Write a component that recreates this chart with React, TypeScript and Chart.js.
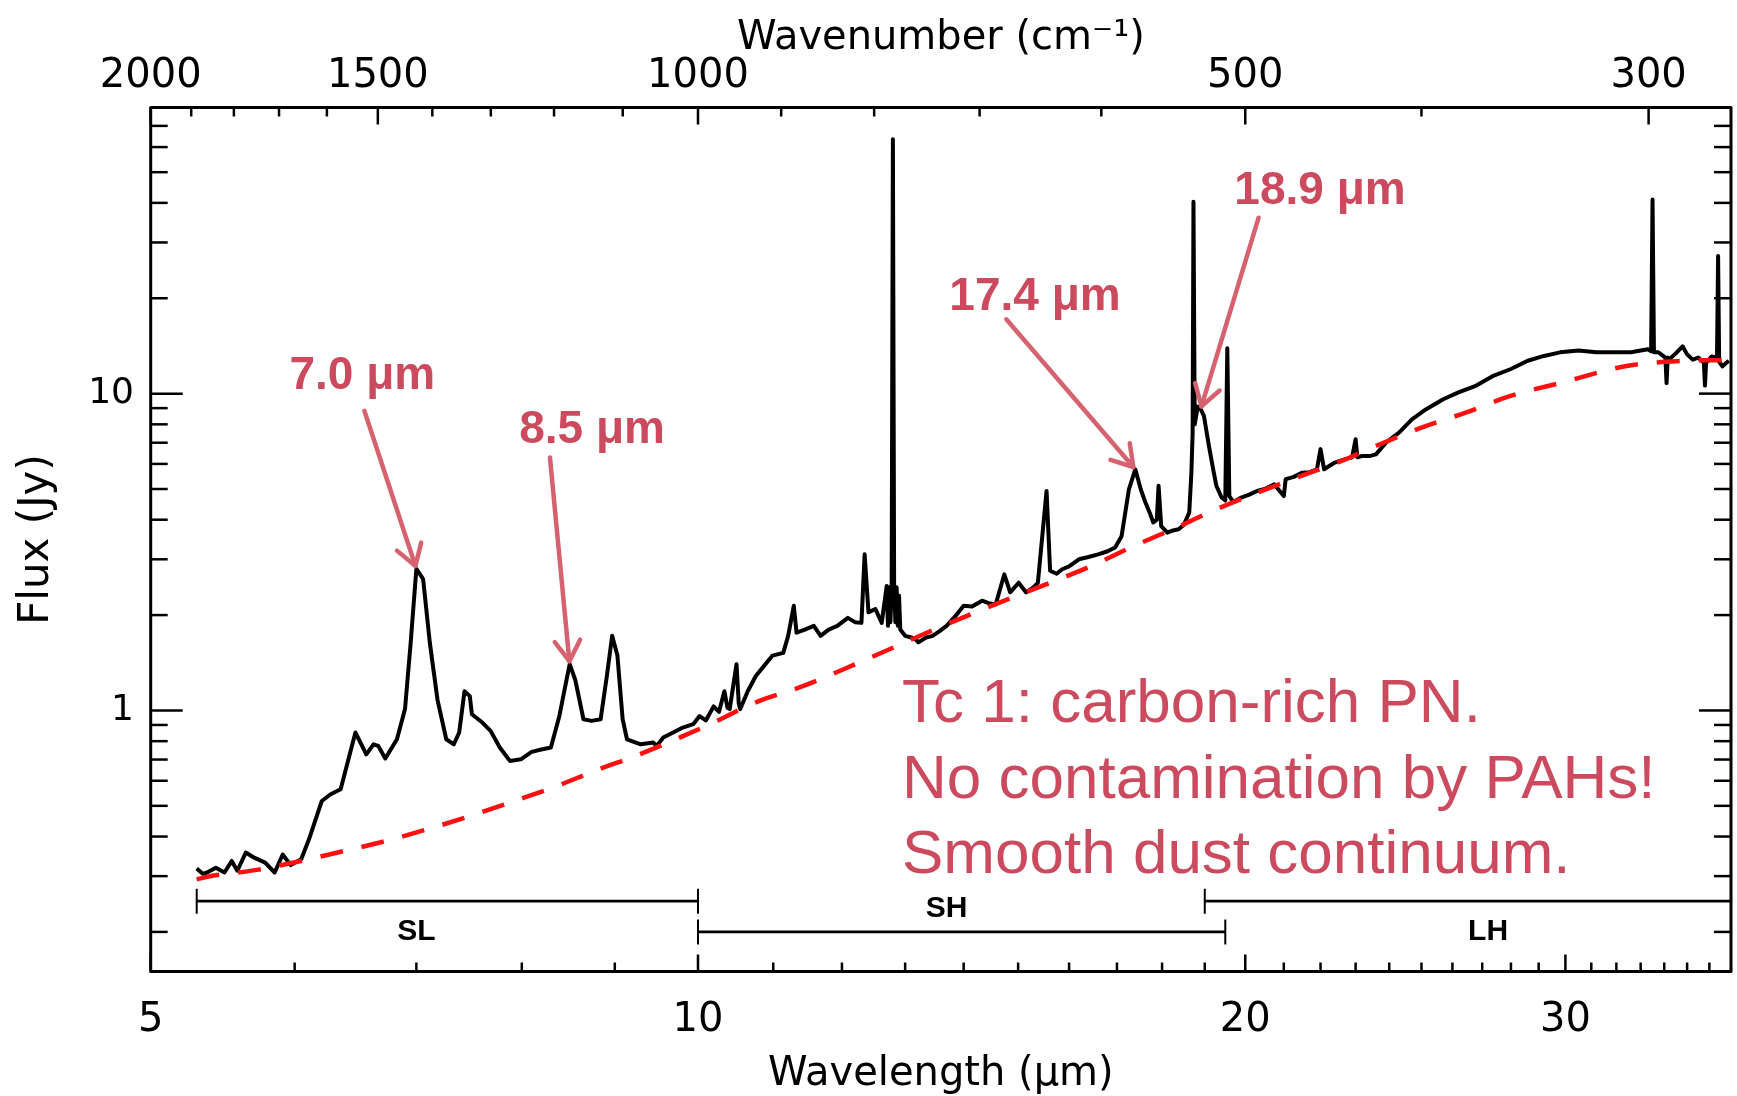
import React, { useEffect, useRef } from "react";
import { Chart, registerables } from "chart.js";

Chart.register(...registerables);

// Tc 1 — Spitzer IRS spectrum. Wavelength in μm, flux density in Jy.
const specWavelength = [
  5.3, 5.34, 5.37, 5.43, 5.49, 5.54, 5.58, 5.64, 5.7, 5.78, 5.85, 5.91, 5.97, 6.05, 6.11,
  6.21, 6.28, 6.36, 6.43, 6.48, 6.57, 6.63, 6.67, 6.73, 6.83, 6.9, 6.95, 7.0, 7.06, 7.12,
  7.19, 7.27, 7.34, 7.39, 7.44, 7.49, 7.51, 7.61, 7.69, 7.78, 7.88, 7.99, 8.1, 8.21, 8.3,
  8.39, 8.5, 8.56, 8.65, 8.74, 8.84, 8.91, 8.97, 9.03, 9.09, 9.14, 9.3, 9.45, 9.49, 9.57,
  9.69, 9.81, 9.94, 10.02, 10.1, 10.2, 10.27, 10.34, 10.38, 10.41, 10.5, 10.53, 10.55, 10.65,
  10.76, 10.87, 10.99, 11.14, 11.21, 11.29, 11.33, 11.45, 11.58, 11.68, 11.8, 11.93, 12.09,
  12.2, 12.3, 12.35, 12.41, 12.52, 12.62, 12.7, 12.72, 12.74, 12.76, 12.78, 12.8, 12.82,
  12.84, 12.86, 12.88, 12.9, 12.92, 13.0, 13.1, 13.17, 13.22, 13.35, 13.46, 13.58, 13.7,
  13.85, 14.0, 14.15, 14.33, 14.45, 14.58, 14.74, 14.85, 15.01, 15.15, 15.3, 15.38, 15.55,
  15.62, 15.75, 15.86, 16.0, 16.2, 16.4, 16.6, 16.8, 16.96, 17.1, 17.26, 17.4, 17.52, 17.62,
  17.72, 17.8, 17.88, 17.92, 17.98, 18.12, 18.25, 18.38, 18.5, 18.63, 18.68, 18.71, 18.73,
  18.76, 18.83, 18.9, 18.98, 19.1, 19.2, 19.28, 19.41, 19.5, 19.55, 19.6, 19.7, 19.9, 20.1,
  20.3, 20.5, 20.75, 21.0, 21.05, 21.25, 21.5, 21.7, 21.9, 22.0, 22.1, 22.4, 22.7, 22.9, 23.0,
  23.05, 23.2, 23.4, 23.6, 23.9, 24.3, 24.7, 25.15, 25.7, 26.2, 26.8, 27.4, 28.0, 28.6, 29.2,
  29.8, 30.5, 31.2, 31.9, 32.6, 33.3, 33.44, 33.5, 33.56, 33.75, 34.05, 34.1, 34.15, 34.2,
  34.5, 34.8, 35.0, 35.25, 35.5, 35.75, 35.8, 35.85, 36.1, 36.35, 36.4, 36.45, 36.6, 36.9,
];
const specFlux = [
  0.317, 0.305, 0.308, 0.319, 0.308, 0.335, 0.312, 0.356, 0.343, 0.331, 0.308, 0.351, 0.325, 0.339, 0.392,
  0.518, 0.544, 0.564, 0.718, 0.852, 0.727, 0.782, 0.773, 0.705, 0.811, 1.01, 1.64, 2.8, 2.6, 1.64,
  1.08, 0.811, 0.782, 0.852, 1.15, 1.11, 0.973, 0.916, 0.862, 0.764, 0.693, 0.701, 0.74, 0.754, 0.764,
  0.961, 1.4, 1.25, 0.938, 0.927, 0.938, 1.285, 1.72, 1.49, 0.938, 0.811, 0.782, 0.792, 0.773, 0.821,
  0.852, 0.883, 0.905, 0.96, 0.93, 1.03, 0.99, 1.15, 1.02, 1.01, 1.4, 1.05, 1.01, 1.15,
  1.285, 1.38, 1.49, 1.52, 1.72, 2.14, 1.76, 1.8, 1.85, 1.72, 1.8, 1.85, 1.96,
  1.9, 1.89, 3.11, 2.04, 2.09, 1.89, 2.47, 1.85, 2.45, 1.9, 2.5, 63.5, 2.5,
  1.9, 2.45, 1.85, 2.3, 1.8, 1.72, 1.7, 1.68, 1.64, 1.7, 1.72, 1.78, 1.85,
  1.98, 2.14, 2.13, 2.22, 2.18, 2.16, 2.69, 2.36, 2.53, 2.36, 2.45, 2.53, 4.93,
  2.76, 2.7, 2.79, 2.85, 3.0, 3.05, 3.11, 3.18, 3.27, 3.55, 4.99, 5.77, 4.99, 4.55,
  4.21, 3.92, 4.0, 5.12, 3.82, 3.64, 3.7, 3.73, 3.85, 4.21, 5.6, 7.5, 40.3,
  8.0, 9.1, 8.93, 8.5, 6.84, 5.8, 5.12, 4.7, 4.6, 13.9, 4.75, 4.55, 4.7, 4.8,
  4.93, 5.0, 5.17, 4.75, 5.37, 5.45, 5.63, 5.65, 5.77, 6.68, 5.77, 6.06, 6.21, 6.3, 7.18,
  6.3, 6.36, 6.35, 6.43, 7.0, 7.53, 8.3, 8.93, 9.6, 10.09, 10.6, 11.4, 11.96, 12.7, 13.15,
  13.5, 13.68, 13.5, 13.5, 13.5, 13.8, 13.6, 41.0, 13.5, 13.5, 13.0, 10.8, 13.0, 12.8,
  13.4, 14.1, 13.3, 12.8, 13.0, 12.5, 10.6, 12.5, 13.1, 13.0, 27.2, 12.6, 12.2, 12.7,
];

// Smooth dust continuum model
const contWavelength = [
  5.3, 5.38, 5.72, 6.02, 6.36, 6.72, 7.1, 7.5, 7.91, 8.35, 8.8, 9.27, 9.77, 10.2, 10.73,
  11.43, 12.06, 12.7, 13.37, 14.1, 14.85, 15.63, 16.46, 17.37, 18.3, 19.29, 21.4, 22.56,
  23.79, 25.09, 26.46, 27.93, 29.98, 32.35, 34.0, 36.0, 36.7,
];
const contFlux = [
  0.293, 0.299, 0.314, 0.333, 0.358, 0.386, 0.422, 0.465, 0.516, 0.575, 0.649, 0.724, 0.821, 0.916, 1.054,
  1.195, 1.359, 1.546, 1.762, 2.002, 2.26, 2.533, 2.858, 3.306, 3.76, 4.32, 5.46, 6.11,
  6.97, 7.87, 8.72, 9.8, 10.9, 12.2, 12.6, 12.75, 12.75,
];

// Axis ticks
const wavelengthTicks = [
  5, 6, 7, 8, 9, 10, 11, 12, 13, 14, 15, 16, 17, 18, 19, 20, 21, 22, 23, 24, 25, 26, 27, 28, 29,
  30, 31, 32, 33, 34, 35, 36,
];
const wavelengthLabels = [5, 10, 20, 30];
const wavenumberTicks = [2000, 1900, 1800, 1700, 1600, 1500, 1400, 1300, 1200, 1100, 1000, 900, 800, 700, 600, 500, 400, 300];
const wavenumberLabels = [2000, 1500, 1000, 500, 300];
const fluxTicks = [
  0.2, 0.3, 0.4, 0.5, 0.6, 0.7, 0.8, 0.9, 1, 2, 3, 4, 5, 6, 7, 8, 9, 10, 20, 30, 40, 50, 60, 70,
];
const fluxLabels = [1, 10];

// IRS modules and their wavelength coverage
const moduleNames = ["SL", "SH", "LH"];
const moduleStart = [5.3, 10, 19.0];
const moduleEnd = [10, 19.5, 37];
const moduleLevel = [0.25, 0.2, 0.25];
const moduleLabelWavelength = [7.0, 13.7, 27.2];
const moduleLabelFlux = [0.2, 0.236, 0.2];

// Fullerene bands marked on the spectrum
const featureLabels = ["7.0 μm", "8.5 μm", "17.4 μm", "18.9 μm"];
const featureWavelength = [7.0, 8.5, 17.4, 18.9];

const noteLines = ["Tc 1: carbon-rich PN.", "No contamination by PAHs!", "Smooth dust continuum."];

// ---- layout & styling ----
const W = 1737;
const H = 1096;
const AREA = { left: 150.7, right: 1731, top: 107.5, bottom: 971.5 };
const ACCENT = "#cc4a5e";
const ARROW = "#d6626f";
const AXIS_FONT = "DejaVu Sans";

// callout geometry relative to the marked peak (pixels): arrow tail, label anchor
const callouts = [
  { tail: [-52, -158], label: [-54, -179.5] },
  { tail: [-19.7, -206.6], label: [22.4, -221.6] },
  { tail: [-129, -150], label: [-100.3, -159.6] },
  { tail: [58, -191.5], label: [119.4, -205] },
];

const majorX = new Set(wavelengthLabels);
const majorNu = new Set(wavenumberLabels);
const majorY = new Set(fluxLabels);

function peakFlux(w: number): number {
  const i = specWavelength.indexOf(w);
  return specFlux[i];
}

// keep every axis box at its fixed size, without label overhang padding
function pinBox(size: { width?: number; height?: number }) {
  return (s: any) => {
    if (size.width !== undefined) s.width = size.width;
    if (size.height !== undefined) s.height = size.height;
    s.paddingLeft = 0;
    s.paddingRight = 0;
    s.paddingTop = 0;
    s.paddingBottom = 0;
  };
}

const decorations = {
  id: "decorations",
  afterDatasetsDraw(chart: any) {
    const { ctx, chartArea: a, scales } = chart;
    const x = scales.x;
    const x2 = scales.x2;
    const y = scales.y;
    const y2 = scales.y2;
    ctx.save();

    // module labels
    ctx.fillStyle = "#000";
    ctx.font = 'bold 30px "Liberation Sans"';
    ctx.textAlign = "center";
    ctx.textBaseline = "middle";
    moduleNames.forEach((name, i) => {
      ctx.fillText(name, x.getPixelForValue(moduleLabelWavelength[i]), y.getPixelForValue(moduleLabelFlux[i]));
    });

    // feature callouts
    featureLabels.forEach((text, i) => {
      const w = featureWavelength[i];
      const px = x.getPixelForValue(w);
      const py = y.getPixelForValue(peakFlux(w));
      const c = callouts[i];
      const tx = px + c.tail[0];
      const ty = py + c.tail[1];
      const dx = px - tx;
      const dy = py - ty;
      const len = Math.hypot(dx, dy);
      const ux = dx / len;
      const uy = dy / len;
      const hx = px - ux * 3;
      const hy = py - uy * 3;
      ctx.strokeStyle = ARROW;
      ctx.lineWidth = 4.5;
      ctx.lineCap = "round";
      ctx.lineJoin = "round";
      ctx.beginPath();
      ctx.moveTo(tx, ty);
      ctx.lineTo(hx, hy);
      ctx.stroke();
      const ang = Math.atan2(uy, ux);
      const head = 24;
      const spread = 0.56;
      ctx.beginPath();
      ctx.moveTo(hx - head * Math.cos(ang - spread), hy - head * Math.sin(ang - spread));
      ctx.lineTo(hx, hy);
      ctx.lineTo(hx - head * Math.cos(ang + spread), hy - head * Math.sin(ang + spread));
      ctx.stroke();

      ctx.fillStyle = ACCENT;
      ctx.font = 'bold 46px "Liberation Sans"';
      ctx.textAlign = "center";
      ctx.textBaseline = "alphabetic";
      ctx.fillText(text, px + c.label[0], py + c.label[1]);
    });

    // note
    ctx.fillStyle = ACCENT;
    ctx.font = '62px "Liberation Sans"';
    ctx.textAlign = "left";
    ctx.textBaseline = "alphabetic";
    noteLines.forEach((line, i) => {
      ctx.fillText(line, a.left + 751.3, a.top + 614.2 + i * 75.8);
    });

    // frame
    ctx.strokeStyle = "#000";
    ctx.lineCap = "butt";
    ctx.lineWidth = 3;
    ctx.strokeRect(a.left, a.top, a.right - a.left, a.bottom - a.top);

    // inward tick marks
    ctx.lineWidth = 2.5;
    const seg = (x0: number, y0: number, x1: number, y1: number) => {
      ctx.beginPath();
      ctx.moveTo(x0, y0);
      ctx.lineTo(x1, y1);
      ctx.stroke();
    };
    wavelengthTicks.forEach((v) => {
      const px = x.getPixelForValue(v);
      seg(px, a.bottom, px, a.bottom - (majorX.has(v) ? 17 : 9));
    });
    wavenumberTicks.forEach((n) => {
      const px = x2.getPixelForValue(10000 / n);
      seg(px, a.top, px, a.top + (majorNu.has(n) ? 17 : 9));
    });
    fluxTicks.forEach((v) => {
      const len = majorY.has(v) ? 32 : 17;
      const pl = y.getPixelForValue(v);
      seg(a.left, pl, a.left + len, pl);
      const pr = y2.getPixelForValue(v);
      seg(a.right, pr, a.right - len, pr);
    });

    ctx.restore();
  },
};

const tickFont = { family: AXIS_FONT, size: 40 };

export default function App() {
  const canvasRef = useRef<HTMLCanvasElement | null>(null);

  useEffect(() => {
    const canvas = canvasRef.current;
    if (!canvas) return;

    const spectrum = specWavelength.map((w, i) => ({ x: w, y: specFlux[i] }));
    const continuum = contWavelength.map((w, i) => ({ x: w, y: contFlux[i] }));
    const moduleSets = moduleNames.map((name, i) => ({
      label: name,
      data: [
        { x: moduleStart[i], y: moduleLevel[i] },
        { x: moduleEnd[i], y: moduleLevel[i] },
      ],
      borderColor: "#000",
      borderWidth: 2.8,
      pointStyle: "line" as const,
      rotation: 90,
      pointRadius: 12.5,
      pointBorderWidth: 2,
      pointBorderColor: "#000",
      showLine: true,
      tension: 0,
    }));

    const chart = new Chart(canvas, {
      type: "line",
      data: {
        datasets: [
          {
            label: "continuum",
            data: continuum,
            borderColor: "#ff1010",
            borderWidth: 4.5,
            borderDash: [23, 19],
            pointRadius: 0,
            cubicInterpolationMode: "monotone",
            fill: false,
          },
          {
            label: "Tc 1",
            data: spectrum,
            borderColor: "#000",
            borderWidth: 4,
            pointRadius: 0,
            tension: 0,
            borderJoinStyle: "round",
            fill: false,
          },
          ...moduleSets,
        ],
      },
      options: {
        animation: false,
        responsive: false,
        devicePixelRatio: 1,
        events: [],
        layout: { padding: 0, autoPadding: false },
        plugins: { legend: { display: false }, tooltip: { enabled: false } },
        scales: {
          x: {
            type: "logarithmic",
            axis: "x",
            position: "bottom",
            min: 5,
            max: 37,
            afterBuildTicks: (s: any) => {
              s.ticks = wavelengthTicks.map((v) => ({ value: v }));
            },
            afterFit: pinBox({ height: H - AREA.bottom }),
            grid: { display: false, drawTicks: false },
            border: { display: false },
            ticks: {
              autoSkip: false,
              maxRotation: 0,
              minRotation: 0,
              padding: 25,
              color: "#000",
              font: tickFont,
              callback: (v: any) => (majorX.has(Number(v)) ? String(v) : ""),
            },
            title: {
              display: true,
              text: "Wavelength (μm)",
              color: "#000",
              font: { family: AXIS_FONT, size: 40, lineHeight: 1.0 },
              padding: { top: 0, bottom: 1.6 },
            },
          },
          x2: {
            type: "logarithmic",
            axis: "x",
            position: "top",
            min: 5,
            max: 37,
            afterBuildTicks: (s: any) => {
              s.ticks = wavenumberTicks.map((n) => ({ value: 10000 / n }));
            },
            afterFit: pinBox({ height: AREA.top }),
            grid: { display: false, drawTicks: false },
            border: { display: false },
            ticks: {
              autoSkip: false,
              maxRotation: 0,
              minRotation: 0,
              padding: 6.9,
              color: "#000",
              font: tickFont,
              callback: (v: any) => {
                const n = Math.round(10000 / Number(v));
                return majorNu.has(n) ? String(n) : "";
              },
            },
            title: {
              display: true,
              text: "Wavenumber (cm⁻¹)",
              color: "#000",
              font: { family: AXIS_FONT, size: 40 },
              padding: { top: 14.9, bottom: 0 },
            },
          },
          y: {
            type: "logarithmic",
            axis: "y",
            position: "left",
            min: 0.15,
            max: 80,
            afterBuildTicks: (s: any) => {
              s.ticks = fluxTicks.map((v) => ({ value: v }));
            },
            afterFit: pinBox({ width: AREA.left }),
            grid: { display: false, drawTicks: false },
            border: { display: false },
            ticks: {
              autoSkip: false,
              padding: 16.7,
              color: "#000",
              font: { family: AXIS_FONT, size: 36 },
              callback: (v: any) => (majorY.has(Number(v)) ? String(v) : ""),
            },
            title: {
              display: true,
              text: "Flux (Jy)",
              color: "#000",
              font: { family: AXIS_FONT, size: 42 },
              padding: { top: 12, bottom: 0 },
            },
          },
          y2: {
            type: "logarithmic",
            axis: "y",
            position: "right",
            min: 0.15,
            max: 80,
            afterBuildTicks: (s: any) => {
              s.ticks = fluxTicks.map((v) => ({ value: v }));
            },
            afterFit: pinBox({ width: W - AREA.right }),
            grid: { display: false, drawTicks: false },
            border: { display: false },
            ticks: { display: false },
          },
        },
      },
      plugins: [decorations],
    } as any);

    return () => {
      chart.destroy();
    };
  }, []);

  return (
    <div style={{ position: "fixed", left: 0, top: 0, width: W, height: H, background: "#fff" }}>
      <canvas ref={canvasRef} width={W} height={H} style={{ display: "block", width: W, height: H }} />
    </div>
  );
}
